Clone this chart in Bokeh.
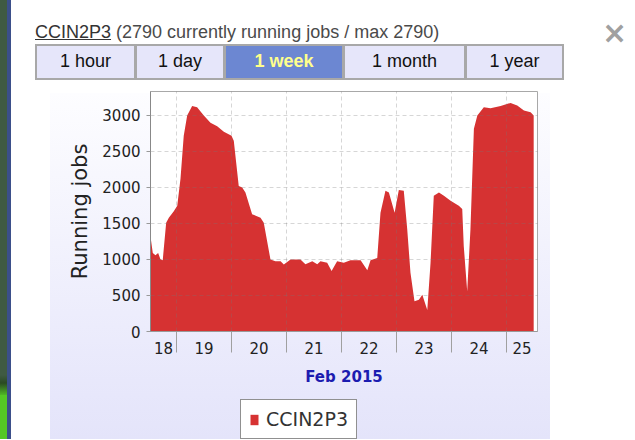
import pandas as pd
from bokeh.plotting import figure
from bokeh.models import (Div, FixedTicker, DatetimeTickFormatter, Legend, LegendItem,
                          Range1d, ColumnDataSource)
from bokeh.layouts import column
from bokeh.embed import file_html
from bokeh.resources import INLINE

# ---------------- data ----------------
site = "CCIN2P3"
header_rest = "(2790 currently running jobs / max 2790)"
buttons = ["1 hour", "1 day", "1 week", "1 month", "1 year"]
selected_button = "1 week"

times = [
    "2015-02-18 12:40", "2015-02-18 13:40", "2015-02-18 14:50", "2015-02-18 16:00",
    "2015-02-18 17:00", "2015-02-18 18:00", "2015-02-18 19:30", "2015-02-18 20:40",
    "2015-02-18 22:50", "2015-02-19 00:20", "2015-02-19 01:45", "2015-02-19 03:10",
    "2015-02-19 04:40", "2015-02-19 06:50", "2015-02-19 09:00", "2015-02-19 11:55",
    "2015-02-19 14:50", "2015-02-19 17:45", "2015-02-19 20:40", "2015-02-20 00:00",
    "2015-02-20 01:00", "2015-02-20 03:10", "2015-02-20 04:40", "2015-02-20 06:05",
    "2015-02-20 09:00", "2015-02-20 12:40", "2015-02-20 14:05", "2015-02-20 17:00",
    "2015-02-20 19:10", "2015-02-20 21:25", "2015-02-20 22:50", "2015-02-21 01:45",
    "2015-02-21 06:05", "2015-02-21 08:15", "2015-02-21 11:15", "2015-02-21 13:25",
    "2015-02-21 14:50", "2015-02-21 17:45", "2015-02-21 19:40", "2015-02-21 22:05",
    "2015-02-22 01:00", "2015-02-22 03:55", "2015-02-22 08:20", "2015-02-22 11:15",
    "2015-02-22 12:40", "2015-02-22 15:35", "2015-02-22 17:00", "2015-02-22 19:10",
    "2015-02-22 20:40", "2015-02-22 23:10", "2015-02-23 01:00", "2015-02-23 03:10",
    "2015-02-23 04:40", "2015-02-23 06:05", "2015-02-23 07:50", "2015-02-23 09:45",
    "2015-02-23 11:15", "2015-02-23 13:25", "2015-02-23 14:50", "2015-02-23 16:15",
    "2015-02-23 18:30", "2015-02-23 20:40", "2015-02-23 23:35", "2015-02-24 03:10",
    "2015-02-24 04:40", "2015-02-24 05:20", "2015-02-24 06:50", "2015-02-24 08:15",
    "2015-02-24 09:45", "2015-02-24 11:15", "2015-02-24 14:05", "2015-02-24 17:00",
    "2015-02-24 21:25", "2015-02-25 01:45", "2015-02-25 04:40", "2015-02-25 07:35",
    "2015-02-25 10:30", "2015-02-25 11:50",
]
running_jobs = [
    1320, 1090, 1060, 1090,
    1005, 990, 1510, 1580,
    1670, 1745, 2120, 2720,
    3000, 3130, 3115, 3000,
    2900, 2850, 2775, 2720,
    2650, 2020, 2000, 1930,
    1630, 1580, 1510, 1000,
    975, 975, 930, 1000,
    1000, 935, 975, 935,
    975, 955, 840, 975,
    955, 990, 990, 850,
    990, 1020, 1650, 1955,
    1930, 1650, 1965, 1955,
    1420, 815, 420, 440,
    510, 300, 950, 1885,
    1930, 1885, 1815, 1745,
    1700, 1185, 560, 1420,
    2815, 3000, 3115, 3100,
    3130, 3175, 3140, 3070,
    3045, 3000,
]
y_ticks = [0, 500, 1000, 1500, 2000, 2500, 3000]
day_boundaries = ["2015-02-19", "2015-02-20", "2015-02-21", "2015-02-22",
                  "2015-02-23", "2015-02-24", "2015-02-25"]
x_start = "2015-02-18 12:40"
x_end = "2015-02-25 13:30"
y_max = 3333
x_axis_title = "Feb 2015"
y_axis_title = "Running jobs"

# ---------------- helpers ----------------
def ms(s):
    return pd.Timestamp(s).value / 1e6

bounds = [ms(x_start)] + [ms(d) for d in day_boundaries] + [ms(x_end)]
label_ticks = [(a + b) / 2 for a, b in zip(bounds[:-1], bounds[1:])]
midnight_ticks = [ms(d) for d in day_boundaries]

W = 635
HEAD_H = 85
FIG_H = 310
LEG_H = 44
RED = "#d63232"

STRIP_BLUE = "linear-gradient(#3b4f8a, #3b4f8a) 7px 0 / 4px 100% no-repeat"
SIDES_WHITE = ("linear-gradient(to right, #ffffff 0px, #ffffff 50px, rgba(255,255,255,0) 50px, "
               "rgba(255,255,255,0) 550px, #ffffff 550px)")

# ---------------- header (HTML) ----------------
btn_edges = [35, 135, 224, 343, 465, 563]
btn_html = ""
for i, b in enumerate(buttons):
    l, r = btn_edges[i], btn_edges[i + 1]
    sel = (b == selected_button)
    bg = "#6c87d2" if sel else "#e6e6fa"
    col = "#ffff8c" if sel else "#111"
    fw = "bold" if sel else "normal"
    btn_html += (
        f'<div style="position:absolute;left:{l}px;top:44px;width:{r - l + 1}px;height:36px;'
        f'box-sizing:border-box;border:2px solid #a8a8a8;background:{bg};color:{col};'
        f'font-weight:{fw};font-size:18px;display:flex;align-items:center;justify-content:center;">{b}</div>'
    )

html = (
    f'<div style="position:relative;width:{W}px;height:{HEAD_H}px;background:#fff;'
    'font-family:\'Liberation Sans\',Arial,sans-serif;">'
    f'<div style="position:absolute;left:0;top:0;width:7px;height:{HEAD_H}px;background:#3f5a42;"></div>'
    f'<div style="position:absolute;left:7px;top:0;width:4px;height:{HEAD_H}px;background:#3b4f8a;"></div>'
    f'<div style="position:absolute;left:35px;top:20px;font-size:18px;color:#4a4a4a;white-space:nowrap;">'
    f'<span style="text-decoration:underline;color:#333;">{site}</span> {header_rest}</div>'
    '<div style="position:absolute;left:602px;top:12px;font-size:30px;color:#a0a0a0;font-weight:bold;'
    'font-family:\'DejaVu Sans\',sans-serif;">&#215;</div>'
    + btn_html +
    '</div>'
)
header = Div(text=html, width=W, height=HEAD_H, margin=(0, 0, 0, 0))

# ---------------- chart ----------------
src = ColumnDataSource(dict(t=pd.to_datetime(times), jobs=running_jobs))

p = figure(width=W, height=FIG_H, x_axis_type="datetime",
           x_range=Range1d(pd.Timestamp(x_start), pd.Timestamp(x_end)),
           y_range=Range1d(0, y_max),
           output_backend="svg", toolbar_location=None,
           min_border_left=150, min_border_right=98, min_border_top=6, min_border_bottom=FIG_H - 6 - 240,
           background_fill_color="white", border_fill_color=None,
           outline_line_color="#a8a8a8", margin=(0, 0, 0, 0))
p.styles = {
    "background": ", ".join([
        STRIP_BLUE,
        "linear-gradient(to bottom, #3f5a42 0px, #3f5a42 290px, #2a4a22 298px, #55c825 312px, #55c825 100%) 0 0 / 7px 100% no-repeat",
        SIDES_WHITE,
        "linear-gradient(to bottom, #ffffff 0px, #ffffff 8px, #fdfdff 8px, #e7e7fb 100%)",
    ]),
}

r = p.varea(x="t", y1=0, y2="jobs", source=src, fill_color=RED, fill_alpha=1)

# x axis
xa = p.xaxis[0]
xa.ticker = FixedTicker(ticks=label_ticks, minor_ticks=midnight_ticks)
fmt = "%d"
xa.formatter = DatetimeTickFormatter(microseconds=fmt, milliseconds=fmt, seconds=fmt, minsec=fmt,
                                     minutes=fmt, hourmin=fmt, hours=fmt, days=fmt, months=fmt, years=fmt)
xa.major_tick_line_color = None
xa.major_tick_out = 0
xa.major_tick_in = 0
xa.minor_tick_line_color = "#a0a0a0"
xa.minor_tick_out = 21
xa.minor_tick_in = 0
xa.major_label_standoff = -11
xa.major_label_text_font = "DejaVu Sans"
xa.major_label_text_font_size = "15px"
xa.major_label_text_color = "#222222"
xa.axis_line_color = "#999999"
xa.axis_label = x_axis_title
xa.axis_label_text_font = "DejaVu Sans"
xa.axis_label_text_font_style = "bold"
xa.axis_label_text_font_size = "15px"
xa.axis_label_text_color = "#1c1cb0"
xa.axis_label_standoff = 11

# y axis
ya = p.yaxis[0]
ya.ticker = FixedTicker(ticks=y_ticks)
ya.major_tick_out = 4
ya.major_tick_in = 0
ya.major_tick_line_color = "#999999"
ya.minor_tick_line_color = None
ya.major_label_standoff = 6
ya.major_label_text_font = "DejaVu Sans"
ya.major_label_text_font_size = "15px"
ya.major_label_text_color = "#222222"
ya.axis_line_color = "#888888"
ya.axis_label = y_axis_title
ya.axis_label_text_font = "DejaVu Sans"
ya.axis_label_text_font_style = "normal"
ya.axis_label_text_font_size = "21px"
ya.axis_label_text_color = "#222222"
ya.axis_label_standoff = 7

# grids (dashed, faintly over the area)
p.xgrid.ticker = FixedTicker(ticks=midnight_ticks)
p.ygrid.ticker = FixedTicker(ticks=y_ticks[1:])
for g in (p.xgrid[0], p.ygrid[0]):
    g.grid_line_color = "#777777"
    g.grid_line_alpha = 0.3
    g.grid_line_dash = "4 3"
    g.level = "annotation"

# ---------------- legend strip (own small figure) ----------------
pl = figure(width=W, height=LEG_H, x_range=Range1d(0, 1), y_range=Range1d(0, 1),
            x_axis_location=None, y_axis_location=None,
            output_backend="svg", toolbar_location=None, min_border=0,
            background_fill_color=None, border_fill_color=None, outline_line_color=None,
            margin=(0, 0, 0, 0))
pl.grid.visible = False
pl.styles = {
    "background": ", ".join([
        STRIP_BLUE,
        "linear-gradient(#55c825, #55c825) 0 0 / 7px 100% no-repeat",
        SIDES_WHITE,
        "linear-gradient(to bottom, #e7e7fb 0%, #e4e4fa 100%)",
    ]),
}
# legend swatch source: same series style, placed outside this strip's visible range
leg_src = ColumnDataSource(dict(t=[5, 6], jobs=[0, 0]))
leg_r = pl.varea(x="t", y1=0, y2="jobs", source=leg_src, fill_color=RED, fill_alpha=1)
legend = Legend(items=[LegendItem(label=site, renderers=[leg_r])], location=(90, 0),
                label_text_font="DejaVu Sans", label_text_font_size="19px",
                label_text_color="#333333", glyph_width=10, glyph_height=13,
                padding=8, margin=0, spacing=0, label_standoff=7,
                border_line_color="#222222", border_line_width=1.5,
                background_fill_color="white", background_fill_alpha=1)
pl.add_layout(legend)

layout = column(header, p, pl, spacing=0, margin=(0, 0, 0, 0))
open("out.html", "w").write(file_html(layout, INLINE))
